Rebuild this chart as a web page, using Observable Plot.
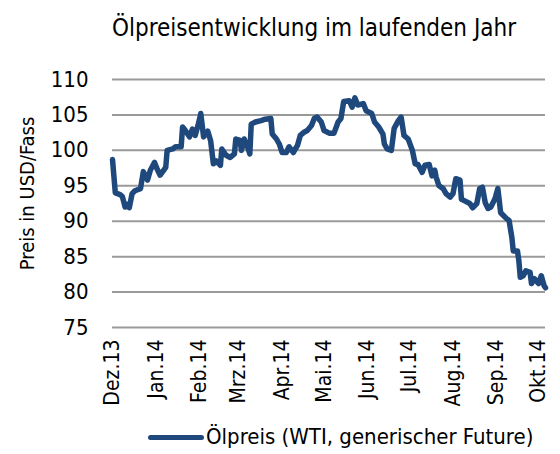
<!DOCTYPE html>
<html><head><meta charset="utf-8">
<script src="https://cdn.jsdelivr.net/npm/d3@7"></script>
<script src="https://cdn.jsdelivr.net/npm/@observablehq/plot@0.6"></script>
<style>
body{margin:0;background:#fff;}
#wrap{position:relative;width:560px;height:454px;overflow:hidden;font-family:"Liberation Sans Narrow","Arial Narrow","DejaVu Sans Condensed",sans-serif;color:#000;}
#title{position:absolute;left:68px;width:492px;top:16px;text-align:center;font-size:24px;line-height:25px;white-space:nowrap;}
#chart{position:absolute;left:0;top:50px;}
#legend{position:absolute;left:148px;top:425px;font-size:22px;line-height:24px;white-space:nowrap;display:flex;align-items:center;}
#legend .sw{display:inline-block;width:56px;height:5px;border-radius:3px;background:#1f497d;margin-right:2px;}
</style>
</head><body>
<div id="wrap">
<div id="title">Ölpreisentwicklung im laufenden Jahr</div>
<div id="chart"></div>
<div id="legend"><span class="sw"></span><span id="legtext"></span></div>
</div>
<script>
const seriesName = "Ölpreis (WTI, generischer Future)";
const yLabel = "Preis in USD/Fass";
const dates = [
"2013-12-01","2013-12-03","2013-12-06","2013-12-08","2013-12-10","2013-12-12","2013-12-13","2013-12-15","2013-12-17","2013-12-21",
"2013-12-23","2013-12-26","2013-12-28","2013-12-31","2014-01-02","2014-01-04","2014-01-08","2014-01-09","2014-01-13","2014-01-15",
"2014-01-19","2014-01-20","2014-01-22","2014-01-25","2014-01-27","2014-01-29","2014-01-31","2014-02-02","2014-02-04","2014-02-07",
"2014-02-09","2014-02-11","2014-02-13","2014-02-16","2014-02-17","2014-02-20","2014-02-23","2014-02-26","2014-02-27","2014-03-02",
"2014-03-03","2014-03-05","2014-03-07","2014-03-09","2014-03-10","2014-03-13","2014-03-17","2014-03-20","2014-03-24","2014-03-25",
"2014-03-28","2014-03-30","2014-04-01","2014-04-04","2014-04-06","2014-04-09","2014-04-12","2014-04-14","2014-04-17","2014-04-19",
"2014-04-22","2014-04-24","2014-04-26","2014-04-29","2014-05-01","2014-05-05","2014-05-08","2014-05-11","2014-05-13","2014-05-15",
"2014-05-19","2014-05-21","2014-05-23","2014-05-25","2014-05-29","2014-05-31","2014-06-04","2014-06-06","2014-06-09","2014-06-12",
"2014-06-13","2014-06-15","2014-06-18","2014-06-20","2014-06-23","2014-06-25","2014-06-27","2014-06-30","2014-07-03","2014-07-05",
"2014-07-07","2014-07-10","2014-07-12","2014-07-15","2014-07-17","2014-07-19","2014-07-20","2014-07-22","2014-07-25","2014-07-27",
"2014-07-30","2014-08-01","2014-08-03","2014-08-06","2014-08-07","2014-08-09","2014-08-13","2014-08-15","2014-08-18","2014-08-20",
"2014-08-22","2014-08-24","2014-08-26","2014-08-28","2014-08-31","2014-09-02","2014-09-04","2014-09-06","2014-09-08","2014-09-10",
"2014-09-12","2014-09-13","2014-09-16","2014-09-17","2014-09-18","2014-09-20","2014-09-22","2014-09-25","2014-09-26","2014-09-28",
"2014-10-01","2014-10-03","2014-10-05","2014-10-06"
];
const prices = [
98.7,94.0,93.8,93.5,92.0,92.4,91.9,93.9,94.3,94.6,
97.0,95.8,97.2,98.3,97.3,96.5,97.6,100.0,100.2,100.5,
100.5,103.3,102.8,101.9,103.0,102.1,103.5,105.2,101.9,102.7,
101.4,98.1,98.5,97.9,100.2,99.3,99.0,99.5,101.6,101.4,
100.0,101.6,100.7,99.5,103.7,104.0,104.2,104.4,104.5,102.3,
101.6,100.9,99.7,99.7,100.5,99.7,100.7,102.1,102.6,102.8,
103.5,104.5,104.7,104.0,102.8,102.4,102.4,104.0,104.5,106.9,
107.0,106.1,107.4,106.4,106.6,105.6,105.2,104.0,103.3,102.3,
100.9,100.2,100.0,103.1,104.2,104.7,102.1,101.6,100.0,98.1,
98.0,96.9,97.9,98.0,96.4,97.2,96.2,95.0,94.6,93.9,
93.4,93.9,96.0,95.8,93.1,92.9,92.5,91.9,92.5,94.6,
94.8,92.6,91.8,92.0,93.2,94.6,91.2,90.8,90.4,90.1,
87.7,85.8,85.8,84.4,82.1,82.3,83.0,82.8,81.2,81.9,
81.2,82.3,80.9,80.6
];
const tickDates = ["2013-12-01","2014-01-01","2014-02-01","2014-03-01","2014-04-01","2014-05-01","2014-06-01","2014-07-01","2014-08-01","2014-09-01","2014-10-01"];
const tickLabels = ["Dez.13","Jan.14","Feb.14","Mrz.14","Apr.14","Mai.14","Jun.14","Jul.14","Aug.14","Sep.14","Okt.14"];
const yTicks = [75,80,85,90,95,100,105,110];
const xDomain = ["2013-12-01","2014-10-06"];

const fam = '"Liberation Sans Narrow","Arial Narrow","DejaVu Sans Condensed",sans-serif';
const data = dates.map((d,i)=>({date:new Date(d), price:prices[i]}));
const tickDateObjs = tickDates.map(d=>new Date(d));
const labelMap = new Map(tickDateObjs.map((d,i)=>[+d, tickLabels[i]]));

const chart = Plot.plot({
  width:560, height:360,
  marginLeft:112, marginRight:15, marginTop:29, marginBottom:83,
  style:{fontFamily:fam, fontSize:"22px", color:"#000", background:"transparent"},
  x:{type:"utc", domain:xDomain.map(d=>new Date(d))},
  y:{domain:[75,110], axis:null},
  marks:[
    Plot.gridY(yTicks,{stroke:"#9a9a9a", strokeOpacity:1, strokeWidth:2}),
    Plot.text(yTicks,{y:d=>d, text:d=>String(d), frameAnchor:"left", textAnchor:"end", dx:-24, fontSize:22, fill:"#000"}),
    Plot.axisX(tickDateObjs,{tickSize:0, tickRotate:-90, tickPadding:12, label:null, fontSize:21, tickFormat:d=>labelMap.get(+d)}),
    Plot.lineY(data,{x:"date", y:"price", stroke:"#1f497d", strokeWidth:5.5, strokeLinejoin:"round", strokeLinecap:"round"}),
    Plot.text([yLabel],{frameAnchor:"left", textAnchor:"middle", rotate:-90, dx:-85, dy:-10, fontSize:20, fill:"#000"})
  ]
});
document.getElementById("chart").appendChild(chart);
document.getElementById("legtext").textContent = seriesName;
</script>
</body></html>
